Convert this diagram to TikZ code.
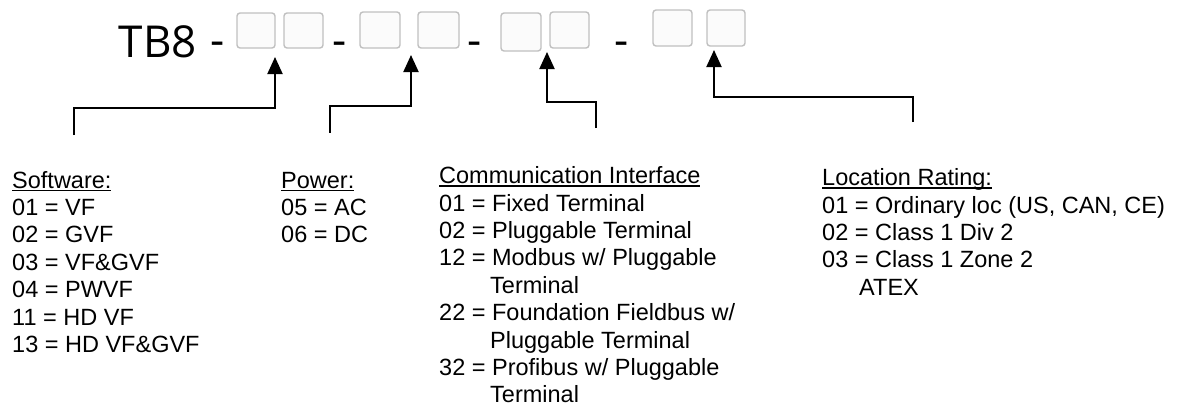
\documentclass[tikz,border=0pt]{standalone}
\usepackage{fontspec}
\setmainfont{Liberation Sans}
\newfontfamily\titlefont{Open Sans}
\usetikzlibrary{arrows.meta}
\definecolor{boxedge}{RGB}{192,192,192}
\definecolor{boxfill}{RGB}{251,251,251}
\newcommand\ulhead[1]{\setbox0\hbox{#1}\rlap{\rule[-3.2pt]{\wd0}{1.8pt}}\box0}
\begin{document}
\begin{tikzpicture}[x=1pt,y=-1pt,
  codebox/.style={draw=boxedge,fill=boxfill,line width=1.4pt,rounded corners=3pt,inner sep=0pt,minimum width=39pt,minimum height=36pt},
  titletext/.style={font=\titlefont\fontsize{44}{50}\selectfont,inner sep=0pt},
  lbl/.style={font=\fontsize{23.5}{27}\selectfont,inner sep=0pt,anchor=base west},
  pointer/.style={line width=2pt,line join=miter,-{Triangle[length=17pt,width=15pt]}}
]
\useasboundingbox (0,0) rectangle (1186,408);

% code line
\node[titletext,anchor=base east] (tb) at (197,57) {TB8};
\node[titletext,anchor=base] (d1) at (217.5,55) {-};
\node[codebox,minimum width=38pt,minimum height=35pt] (b1) at (256,30.5) {};
\node[codebox,minimum height=35pt] (b2) at (303.5,30.5) {};
\node[titletext,anchor=base] (d2) at (339.5,55) {-};
\node[codebox,minimum width=40pt] (b3) at (380,30) {};
\node[codebox,minimum width=41pt] (b4) at (438.5,30) {};
\node[titletext,anchor=base] (d3) at (474.5,55) {-};
\node[codebox,minimum width=40pt,minimum height=38pt] (b5) at (521,32) {};
\node[codebox] (b6) at (569.5,30) {};
\node[titletext,anchor=base] (d4) at (622,55) {-};
\node[codebox] (b7) at (672.5,28) {};
\node[codebox,minimum width=38pt] (b8) at (726,28) {};

% pointers
\coordinate (f1) at (73.6,135);  \coordinate (t1) at (275,57);
\coordinate (f2) at (330,132.5); \coordinate (t2) at (411,55);
\coordinate (f3) at (596,128);   \coordinate (t3) at (547,52);
\coordinate (f4) at (913,122);   \coordinate (t4) at (714,50);
\draw[pointer] (f1) -- ++(0,-27) -| (t1);
\draw[pointer] (f2) -- ++(0,-26.8) -| (t2);
\draw[pointer] (f3) -- ++(0,-26.2) -| (t3);
\draw[pointer] (f4) -- ++(0,-25) -| (t4);

% Software
\node[lbl] (swh) at (12,188.1) {\ulhead{Software:}};
\node[lbl] (sw1) at (12,215.5) {01 = VF};
\node[lbl] (sw2) at (12,242.9) {02 = GVF};
\node[lbl] (sw3) at (12,270.3) {03 = VF\&GVF};
\node[lbl] (sw4) at (12,297.7) {04 = PWVF};
\node[lbl] (sw5) at (12,325.1) {11 = HD VF};
\node[lbl] (sw6) at (12,352.5) {13 = HD VF\&GVF};

% Power
\node[lbl] (pwh) at (281,188.1) {\ulhead{Power:}};
\node[lbl] (pw1) at (281,215.5) {05 = AC};
\node[lbl] (pw2) at (281,242.9) {06 = DC};

% Communication
\node[lbl] (cmh) at (439,183.6) {\ulhead{Communication Interface}};
\node[lbl] (cm1) at (439,211) {01 = Fixed Terminal};
\node[lbl] (cm2) at (439,238.4) {02 = Pluggable Terminal};
\node[lbl] (cm3) at (439,265.8) {12 = Modbus w/ Pluggable};
\node[lbl] (cm4) at (490,293.2) {Terminal};
\node[lbl] (cm5) at (439,320.6) {22 = Foundation Fieldbus w/};
\node[lbl] (cm6) at (490,348) {Pluggable Terminal};
\node[lbl] (cm7) at (439,375.4) {32 = Profibus w/ Pluggable};
\node[lbl] (cm8) at (490,402.8) {Terminal};

% Location
\node[lbl] (loh) at (822,185.6) {\ulhead{Location Rating:}};
\node[lbl] (lo1) at (822,213) {01 = Ordinary loc (US, CAN, CE)};
\node[lbl] (lo2) at (822,240.4) {02 = Class 1 Div 2};
\node[lbl] (lo3) at (822,267.8) {03 = Class 1 Zone 2};
\node[lbl] (lo4) at (859,295.2) {ATEX};
\end{tikzpicture}
\end{document}
